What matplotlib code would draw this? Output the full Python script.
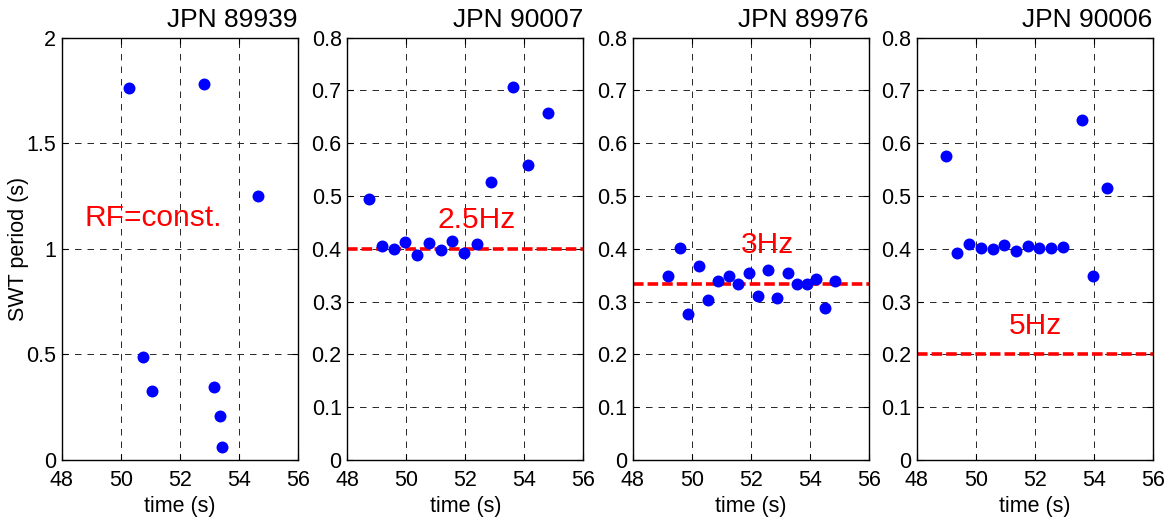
import matplotlib
matplotlib.use("Agg")
import matplotlib.pyplot as plt

plt.rcParams['font.family'] = ['Liberation Sans', 'DejaVu Sans']
plt.rcParams['lines.scale_dashes'] = False

# shot names
titles = ['JPN 89939', 'JPN 90007', 'JPN 89976', 'JPN 90006']

# SWT period vs time for each shot
t1 = [50.27, 52.83, 54.66, 50.75, 51.07, 53.17, 53.35, 53.43]
p1 = [1.763, 1.781, 1.250, 0.486, 0.328, 0.346, 0.208, 0.063]

t2 = [48.75, 49.16, 49.57, 49.95, 50.36, 50.76, 51.16, 51.56, 51.95, 52.38,
      52.88, 53.62, 54.12, 54.81]
p2 = [0.494, 0.406, 0.399, 0.413, 0.388, 0.411, 0.397, 0.414, 0.392, 0.410,
      0.527, 0.707, 0.558, 0.657]

t3 = [49.19, 49.60, 49.88, 50.24, 50.56, 50.88, 51.27, 51.58, 51.95, 52.24,
      52.60, 52.89, 53.25, 53.58, 53.91, 54.23, 54.53, 54.87]
p3 = [0.348, 0.402, 0.277, 0.368, 0.304, 0.339, 0.348, 0.333, 0.354, 0.311,
      0.360, 0.306, 0.355, 0.333, 0.333, 0.343, 0.287, 0.340]

t4 = [48.98, 49.36, 49.77, 50.17, 50.57, 50.97, 51.37, 51.76, 52.16, 52.56,
      52.97, 53.60, 53.97, 54.44]
p4 = [0.576, 0.393, 0.410, 0.401, 0.400, 0.408, 0.395, 0.406, 0.402, 0.402,
      0.404, 0.644, 0.348, 0.516]

times = [t1, t2, t3, t4]
periods = [p1, p2, p3, p4]

# reference period lines (1/f) and labels
ref_lines = [None, 1 / 2.5, 1 / 3.0, 1 / 5.0]
labels = ['RF=const.', '2.5Hz', '3Hz', '5Hz']
label_pos = [(51.11, 1.144), (52.38, 0.455), (52.56, 0.407), (52.02, 0.253)]

fig = plt.figure(figsize=(11.76, 5.25), dpi=100)
W, H = 1176, 525
lefts = [61.7, 347.3, 632.7, 916.7]
bottom_px, top_px, width_px = 460, 37.7, 236

for i in range(4):
    ax = fig.add_axes([lefts[i] / W, 1 - bottom_px / H, width_px / W,
                       (bottom_px - top_px) / H])
    ax.plot(times[i], periods[i], 'o', color='#0000ff', markersize=8.6,
            markeredgewidth=0, zorder=3)
    if ref_lines[i] is not None:
        ax.axhline(ref_lines[i], color='#ff0000', lw=2.6,
                   linestyle=(0, (7.6, 2.9)), zorder=2)
    ax.text(label_pos[i][0], label_pos[i][1], labels[i], color='#ff0000',
            fontsize=21.5, ha='center', va='center', zorder=4)

    ax.set_xlim(48, 56)
    ax.set_xticks([48, 50, 52, 54, 56])
    if i == 0:
        ax.set_ylim(0, 2)
        ax.set_yticks([0, 0.5, 1, 1.5, 2])
        ax.set_yticklabels(['0', '0.5', '1', '1.5', '2'])
        ax.set_ylabel('SWT period (s)', fontsize=15.5)
        ax.yaxis.set_label_coords(-0.14, 0.5)
    else:
        ax.set_ylim(0, 0.8)
        ax.set_yticks([0, 0.1, 0.2, 0.3, 0.4, 0.5, 0.6, 0.7, 0.8])
        ax.set_yticklabels(['0', '0.1', '0.2', '0.3', '0.4', '0.5', '0.6',
                            '0.7', '0.8'])
    ax.grid(True, color='0.15', lw=0.7, linestyle=(0, (4.7, 4.3)))
    ax.set_axisbelow(True)
    ax.tick_params(direction='in', length=4, top=True, right=True,
                   labelsize=15.5)
    ax.tick_params(axis='x', pad=7)
    ax.tick_params(axis='y', pad=4)
    for s in ax.spines.values():
        s.set_linewidth(1.0)
    ax.set_xlabel('time (s)', fontsize=15.5, labelpad=4)
    ax.set_title(titles[i], loc='right', fontsize=19, pad=8)

fig.savefig('out.png', dpi=100)
